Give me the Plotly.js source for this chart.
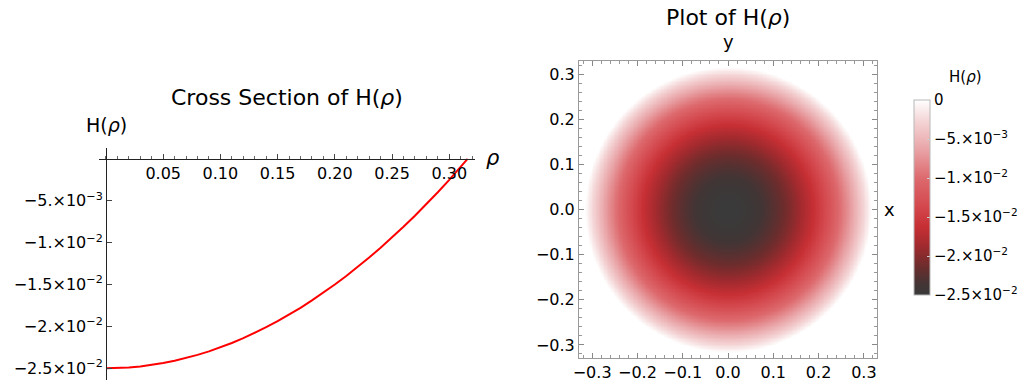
<!DOCTYPE html>
<html>
<head>
<meta charset="utf-8">
<script src="https://cdn.plot.ly/plotly-3.0.1.min.js"></script>
<style>html,body{margin:0;padding:0;background:#fff;}#chart{width:1023px;height:387px;}</style>
</head>
<body>
<div id="chart"></div>
<script>
// Radial profile H(rho)
const rho = [0,0.01,0.02,0.03,0.04,0.05,0.06,0.07,0.08,0.09,0.10,0.11,0.12,0.13,0.14,0.15,
             0.16,0.17,0.18,0.19,0.20,0.21,0.22,0.23,0.24,0.25,0.26,0.27,0.28,0.29,0.30,0.31,0.316];
const H = [-0.0250,-0.02498,-0.0249,-0.02478,-0.0246,-0.02438,-0.0241,-0.02378,-0.0234,-0.02298,
           -0.0225,-0.02198,-0.0214,-0.02078,-0.0201,-0.01938,-0.0186,-0.01778,-0.0169,-0.01598,
           -0.0150,-0.01398,-0.0129,-0.01178,-0.0106,-0.00938,-0.0081,-0.00678,-0.0054,-0.00398,
           -0.0025,-0.00098,0];

// tick labels
const leftXTicks = [0.05,0.10,0.15,0.20,0.25,0.30];
const leftXText = ['0.05','0.10','0.15','0.20','0.25','0.30'];
const hTicks = [-0.005,-0.01,-0.015,-0.02,-0.025];
const hText = ['\u22125.\u00d710<sup>\u22123</sup>','\u22121.\u00d710<sup>\u22122</sup>','\u22121.5\u00d710<sup>\u22122</sup>',
               '\u22122.\u00d710<sup>\u22122</sup>','\u22122.5\u00d710<sup>\u22122</sup>'];
const cbTicks = [0,-0.005,-0.01,-0.015,-0.02,-0.025];
const cbText = ['0'].concat(hText);
const xyTicks = [-0.3,-0.2,-0.1,0,0.1,0.2,0.3];

// density-plot table built from the radial profile (value at each cell's radius; 0 = white outside)
function profileAt(r) {
  if (r >= rho[rho.length-1]) return 0;
  let k = 0;
  while (k < rho.length-2 && rho[k+1] <= r) k++;
  const t = (r - rho[k]) / (rho[k+1] - rho[k]);
  return H[k] + t * (H[k+1] - H[k]);
}
const N = 221;
const grid = [];
for (let i = 0; i < N; i++) grid.push(-0.33 + 0.66 * i / (N-1));
const z = grid.map(yy => grid.map(xx => profileAt(Math.sqrt(xx*xx + yy*yy))));

const W = 1023, Ht = 387;
const px = p => p/W, py = p => 1 - p/Ht;
const FONT = 'DejaVu Sans, sans-serif';

const colorscale = [
  [0.00,'#3a3a3a'],
  [0.05,'#413535'],
  [0.15,'#6e2c2c'],
  [0.25,'#a02a2e'],
  [0.35,'#c62f34'],
  [0.45,'#d3474c'],
  [0.60,'#dd6a6e'],
  [0.75,'#e9a5a8'],
  [0.90,'#f5d8d9'],
  [1.00,'#ffffff']
];

const traces = [
  {x: rho, y: H, type:'scatter', mode:'lines', line:{color:'#ff0000', width:2},
   xaxis:'x', yaxis:'y', hoverinfo:'skip', showlegend:false},
  {x: grid, y: grid, z: z, type:'heatmap', xaxis:'x2', yaxis:'y2', zsmooth:'best',
   colorscale: colorscale, zmin:-0.025, zmax:0, showscale:true, hoverinfo:'skip',
   colorbar:{x:px(914), xanchor:'left', y:py(197.5), yanchor:'middle', len:195, lenmode:'pixels',
     thickness:16, outlinewidth:1, outlinecolor:'#b8b8b8', xpad:0, ypad:0,
     tickvals: cbTicks, ticktext: cbText,
     ticks:'inside', ticklen:3, tickcolor:'#d0d0d0',
     tickfont:{family:FONT,size:15,color:'#000'}}}
];

const layout = {
  width:W, height:Ht, margin:{l:0,r:0,t:0,b:0}, paper_bgcolor:'#fff', plot_bgcolor:'rgba(0,0,0,0)',
  font:{family:FONT, size:16, color:'#000'},
  showlegend:false,
  xaxis:{domain:[px(99),px(475)], range:[-0.0061,0.3225], anchor:'free', position:py(159),
    showline:true, linecolor:'#222', linewidth:1, showgrid:false, zeroline:false,
    tickvals:leftXTicks, ticktext:leftXText, ticks:'inside', ticklen:5, tickcolor:'#444',
    minor:{dtick:0.01, tick0:0, ticks:'inside', ticklen:3, tickcolor:'#666', showgrid:false},
    tickfont:{family:FONT,size:16}, fixedrange:true},
  yaxis:{domain:[py(380),py(148)], range:[-0.0264,0.0013], anchor:'free', position:px(106),
    showline:true, linecolor:'#222', linewidth:1, showgrid:false, zeroline:false,
    tickvals:hTicks, ticktext:hText, ticks:'inside', ticklen:5, tickcolor:'#444',
    tickfont:{family:FONT,size:16}, fixedrange:true},
  xaxis2:{domain:[px(579),px(877)], range:[-0.329,0.329], anchor:'y2',
    showline:true, mirror:'ticks', linecolor:'#999', linewidth:1, showgrid:false,
    zeroline:true, zerolinecolor:'#888', zerolinewidth:1,
    tickvals:xyTicks, tickformat:'.1f', ticks:'inside', ticklen:5, tickcolor:'#888',
    minor:{dtick:0.02, tick0:0, ticks:'inside', ticklen:3, tickcolor:'#999', showgrid:false},
    tickfont:{family:FONT,size:16}, fixedrange:true},
  yaxis2:{domain:[py(358),py(61)], range:[-0.329,0.329], anchor:'x2',
    showline:true, mirror:'ticks', linecolor:'#999', linewidth:1, showgrid:false,
    zeroline:true, zerolinecolor:'#888', zerolinewidth:1,
    tickvals:xyTicks, tickformat:'.1f', ticks:'inside', ticklen:5, tickcolor:'#888',
    minor:{dtick:0.02, tick0:0, ticks:'inside', ticklen:3, tickcolor:'#999', showgrid:false},
    tickfont:{family:FONT,size:16}, fixedrange:true},
  annotations:[
    {text:'Cross Section of H(<i>ρ</i>)', x:px(287), y:py(97), xref:'paper', yref:'paper', showarrow:false,
     xanchor:'center', yanchor:'middle', font:{family:FONT,size:22}},
    {text:'H(<i>ρ</i>)', x:px(106), y:py(125), xref:'paper', yref:'paper', showarrow:false,
     xanchor:'center', yanchor:'middle', font:{family:FONT,size:19}},
    {text:'<i>ρ</i>', x:px(493), y:py(158), xref:'paper', yref:'paper', showarrow:false,
     xanchor:'center', yanchor:'middle', font:{family:FONT,size:21}},
    {text:'Plot of H(<i>ρ</i>)', x:px(728), y:py(17), xref:'paper', yref:'paper', showarrow:false,
     xanchor:'center', yanchor:'middle', font:{family:FONT,size:22}},
    {text:'y', x:px(728), y:py(42), xref:'paper', yref:'paper', showarrow:false,
     xanchor:'center', yanchor:'middle', font:{family:FONT,size:18}},
    {text:'x', x:px(889), y:py(209), xref:'paper', yref:'paper', showarrow:false,
     xanchor:'center', yanchor:'middle', font:{family:FONT,size:18}},
    {text:'H(<i>ρ</i>)', x:px(965), y:py(77), xref:'paper', yref:'paper', showarrow:false,
     xanchor:'center', yanchor:'middle', font:{family:FONT,size:15}}
  ]
};

Plotly.newPlot('chart', traces, layout, {staticPlot:true, displayModeBar:false});
</script>
</body>
</html>
